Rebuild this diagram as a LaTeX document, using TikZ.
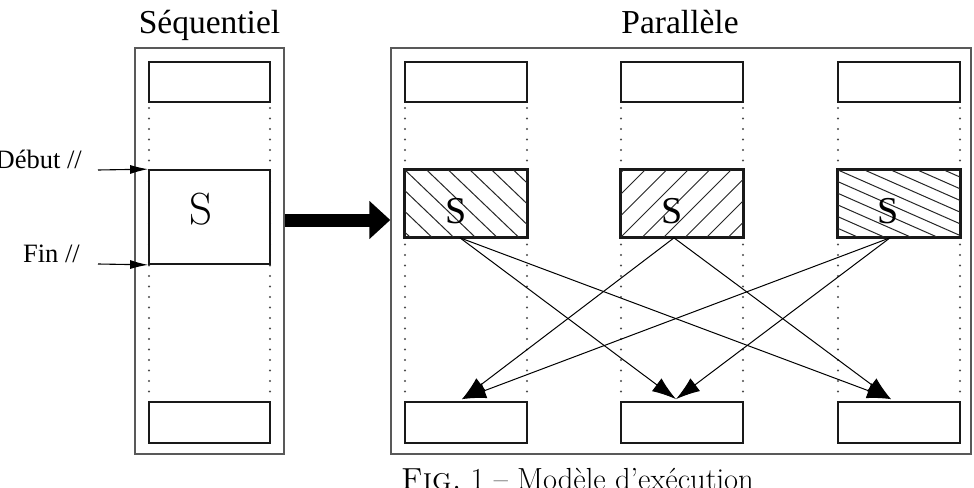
\documentclass[tikz,border=0pt]{standalone}
\usepackage{fontspec}
\newfontfamily\tms{Liberation Serif}
\usetikzlibrary{arrows.meta,calc}
\begin{document}
\begin{tikzpicture}[x=1pt,y=-1pt,
  outer/.style={draw=black!65,line width=1.4pt},
  blk/.style={draw=black!90,line width=1.7pt,fill=white,inner sep=0pt},
  dotline/.style={black!70,line width=2.2pt,line cap=round,dash pattern=on 0pt off 10.5pt},
  hatch/.style={line width=1pt,black!85},
  arr/.style={line width=1pt,-{Latex[length=24pt,width=16pt]}},
  thinarr/.style={line width=1.1pt,-{Latex[length=18pt,width=9pt]}},
  bigarr/.style={line width=13pt,-{Triangle[length=21pt,width=37pt]}},
  lab/.style={font=\tms\fontsize{33.5}{36}\selectfont,inner sep=0pt},
  smalllab/.style={font=\tms\fontsize{26.5}{28}\selectfont,inner sep=0pt},
  sbig/.style={font=\tms\fontsize{38}{40}\selectfont,inner sep=0pt}]
\useasboundingbox (0,0) rectangle (974,487);

% outer frames
\node[outer,minimum width=149pt,minimum height=406pt,inner sep=0pt] (seq) at (209.5,251) {};
\node[outer,minimum width=580pt,minimum height=406pt,inner sep=0pt] (par) at (681,251) {};

% titles
\node[lab,anchor=base] (tseq) at (209.5,34) {Séquentiel};
\node[lab,anchor=base] (tpar) at (680,34) {Parallèle};

% dotted columns
\foreach \cx in {149,270,405,527,621,743,838,960}{
  \draw[dotline] (\cx,108) -- (\cx,398);
}

% sequential column
\node[blk,minimum width=121pt,minimum height=40pt] (st) at (209.5,82) {};
\node[blk,minimum width=121pt,minimum height=94pt] (ss) at (209.5,217) {};
\node[blk,minimum width=121pt,minimum height=41pt] (sb) at (209.5,422.5) {};
\node[font=\fontsize{45}{46}\selectfont,inner sep=0pt] (sl) at (201,209) {S};

% parallel columns
\node[blk,minimum width=122pt,minimum height=40pt] (t1) at (466,82) {};
\node[blk,minimum width=122pt,minimum height=40pt] (t2) at (682,82) {};
\node[blk,minimum width=122pt,minimum height=40pt] (t3) at (899,82) {};
\node[blk,minimum width=122pt,minimum height=67pt] (p1) at (466,203.5) {};
\node[blk,minimum width=122pt,minimum height=67pt] (p2) at (682,203.5) {};
\node[blk,minimum width=122pt,minimum height=67pt] (p3) at (899,203.5) {};
\node[blk,minimum width=122pt,minimum height=41pt] (b1) at (466,422.5) {};
\node[blk,minimum width=122pt,minimum height=41pt] (b2) at (682,422.5) {};
\node[blk,minimum width=122pt,minimum height=41pt] (b3) at (899,422.5) {};

% hatching
\begin{scope}
  \clip (p1.south west) rectangle (p1.north east);
  \foreach \i in {-7,...,6}{\draw[hatch] (405+21.7*\i,170) -- ++(70,67);}
\end{scope}
\begin{scope}
  \clip (p2.south west) rectangle (p2.north east);
  \foreach \i in {-4,...,9}{\draw[hatch] (621+21.5*\i,237) -- ++(67,-67);}
\end{scope}
\begin{scope}
  \clip (p3.south west) rectangle (p3.north east);
  \foreach \i in {-8,...,6}{\draw[hatch] (838+26.5*\i,170) -- ++(152,67);}
\end{scope}
\foreach \n in {p1,p2,p3}{\draw[line width=1.7pt,black!90] (\n.south west) rectangle (\n.north east);}

\node[sbig] (s1) at (456,211) {S};
\node[sbig] (s2) at (672,211) {S};
\node[sbig] (s3) at (888.5,211) {S};

% start / end labels
\node[smalllab,anchor=base east] (deb) at (82,168) {Début //};
\node[smalllab,anchor=base east] (fin) at (80,262) {Fin //};
\coordinate (debs) at (98,170);
\coordinate (fins) at (98,264);
\draw[thinarr] (debs) -- (ss.north west);
\draw[thinarr] (fins) -- (ss.south west);

% big arrow
\coordinate (ba) at (seq.east |- 0,220);
\coordinate (bb) at (par.west |- 0,220);
\draw[bigarr] (ba) -- (bb);

% communication arrows
\coordinate (o1) at ($(p1.south)+(-6,0)$);
\coordinate (o2) at ($(p2.south)+(-8,0)$);
\coordinate (o3) at ($(p3.south)+(-9,0)$);
\coordinate (e1) at ($(b1.north)+(-4,-2)$);
\coordinate (e2) at ($(b2.north)+(-6,-2)$);
\coordinate (e3) at ($(b3.north)+(-8,-2)$);
\draw[arr] (o1) -- (e2);
\draw[arr] (o1) -- (e3);
\draw[arr] (o2) -- (e1);
\draw[arr] (o2) -- (e3);
\draw[arr] (o3) -- (e1);
\draw[arr] (o3) -- (e2);

% caption (cut at the bottom edge, as in the reference)
\node[font=\fontsize{30.5}{32}\selectfont,anchor=base,inner sep=0pt] (cap) at (577.5,489) {\textsc{Fig.}~1 -- Modèle d'exécution};
\end{tikzpicture}
\end{document}
